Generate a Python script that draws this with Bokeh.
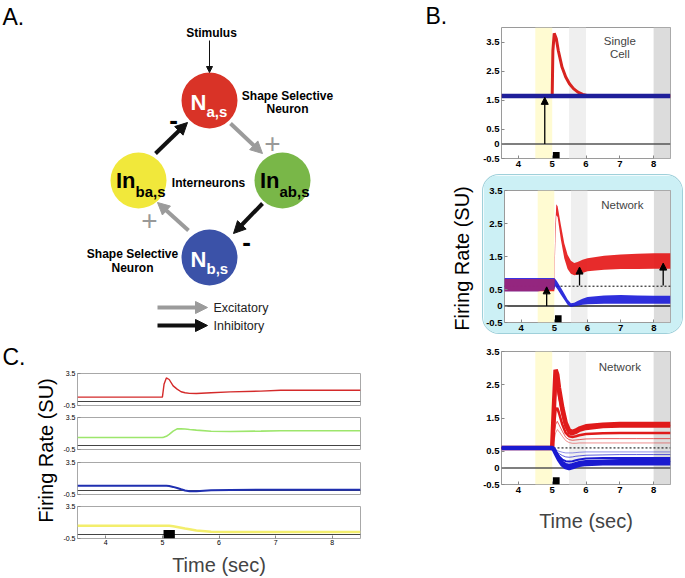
import math
from bokeh.plotting import figure
from bokeh.models import (Range1d, FixedTicker, NumeralTickFormatter, Arrow,
                          NormalHead, Label, ColumnDataSource, Spacer)
from bokeh.layouts import row, column
from bokeh.core.properties import value
from bokeh.embed import file_html
from bokeh.resources import INLINE

FONT = "Liberation Sans"

# ---------------- data ----------------
x_ticks = [4, 5, 6, 7, 8]
b_y_ticks = [-0.5, 0, 0.5, 1.5, 2.5, 3.5]
c_y_ticks = [-0.5, 3.5]

band_left = [4.5, 5.5, 8.0]
band_right = [5.0, 6.0, 8.5]
band_colors = ["#fffbd2", "#efefef", "#dcdcdc"]

stim_left = [5.02]
stim_right = [5.22]
stim_bottom_b = [-0.5]
stim_top_b = [-0.28]
stim_bottom_c = [-0.5]
stim_top_c = [0.55]

baseline_t = [3.5, 8.5]
zero_level = [0.0, 0.0]
baseline_level = [0.6, 0.6]

# B1: single cell
t_single = [3.5, 4.0, 4.5, 5.0, 5.02, 5.06, 5.12, 5.18, 5.29, 5.4, 5.51, 5.63, 5.76, 5.9, 6.06, 6.5, 7.0, 7.5, 8.0, 8.5]
red_single = [1.65, 1.65, 1.65, 1.65, 3.2, 3.8, 3.62, 3.21, 2.64, 2.3, 2.07, 1.9, 1.78, 1.7, 1.66, 1.65, 1.65, 1.65, 1.65, 1.65]
blue_single_t = [3.5, 8.5]
blue_single = [1.65, 1.65]
single_arrow_x = [4.78]
single_arrow_y0 = [0.0]
single_arrow_y1 = [1.6]

# B2: network, many trials (band extents)
t_net = [3.5, 4.0, 4.5, 5.0, 5.03, 5.06, 5.1, 5.2, 5.3, 5.4, 5.5, 5.6, 5.7, 5.85, 6.0, 6.5, 7.0, 7.5, 8.0, 8.5]
red_net_lo = [0.45, 0.45, 0.45, 0.45, 1.9, 2.75, 2.7, 2.0, 1.45, 1.12, 0.98, 0.93, 0.95, 1.0, 1.05, 1.1, 1.12, 1.12, 1.13, 1.13]
red_net_hi = [0.82, 0.82, 0.82, 0.82, 2.4, 3.08, 3.02, 2.45, 1.9, 1.55, 1.37, 1.3, 1.33, 1.4, 1.45, 1.52, 1.56, 1.58, 1.6, 1.6]
blue_net_lo = [0.45, 0.45, 0.45, 0.5, 0.6, 0.55, 0.5, 0.34, 0.19, 0.04, -0.03, -0.01, 0.01, 0.04, 0.05, 0.07, 0.07, 0.07, 0.07, 0.07]
blue_net_hi = [0.85, 0.85, 0.85, 0.85, 0.82, 0.78, 0.72, 0.55, 0.38, 0.2, 0.08, 0.1, 0.15, 0.22, 0.27, 0.32, 0.33, 0.32, 0.31, 0.31]
net_arrow_x = [4.77, 5.76, 8.28]
net_arrow_y0 = [0.0, 0.62, 0.62]
net_arrow_y1 = [0.58, 1.18, 1.3]

# B3: network, several conditions
t_pop = [3.5, 4.0, 4.5, 5.0, 5.05, 5.1, 5.15, 5.2, 5.3, 5.4, 5.5, 5.6, 5.7, 5.8, 6.0, 6.5, 7.0, 7.5, 8.0, 8.5]
red_pop_a = [0.6, 0.6, 0.6, 0.6, 1.8, 2.95, 2.8, 2.4, 1.8, 1.35, 1.12, 1.08, 1.12, 1.18, 1.25, 1.3, 1.32, 1.32, 1.32, 1.32]
red_pop_b = [0.6, 0.6, 0.6, 0.6, 1.7, 2.7, 2.6, 2.2, 1.65, 1.25, 1.05, 1.02, 1.06, 1.12, 1.18, 1.24, 1.25, 1.25, 1.25, 1.25]
red_pop_c = [0.6, 0.6, 0.6, 0.6, 1.2, 1.75, 1.8, 1.65, 1.3, 1.05, 0.95, 0.93, 0.95, 0.98, 1.02, 1.04, 1.05, 1.05, 1.05, 1.05]
red_pop_d = [0.6, 0.6, 0.6, 0.6, 0.95, 1.3, 1.4, 1.3, 1.1, 0.92, 0.85, 0.83, 0.84, 0.85, 0.87, 0.88, 0.88, 0.88, 0.88, 0.88]
red_pop_e = [0.6, 0.6, 0.6, 0.6, 0.8, 1.05, 1.15, 1.1, 0.95, 0.82, 0.76, 0.74, 0.74, 0.75, 0.75, 0.75, 0.75, 0.75, 0.75, 0.75]
blue_pop_a = [0.6, 0.6, 0.6, 0.6, 0.58, 0.55, 0.52, 0.5, 0.47, 0.45, 0.45, 0.45, 0.46, 0.47, 0.48, 0.48, 0.48, 0.48, 0.48, 0.48]
blue_pop_b = [0.6, 0.6, 0.6, 0.6, 0.57, 0.52, 0.47, 0.43, 0.37, 0.33, 0.32, 0.33, 0.35, 0.36, 0.38, 0.39, 0.4, 0.4, 0.4, 0.4]
blue_pop_c = [0.6, 0.6, 0.6, 0.6, 0.56, 0.5, 0.42, 0.35, 0.25, 0.2, 0.19, 0.2, 0.23, 0.25, 0.28, 0.3, 0.3, 0.3, 0.3, 0.3]
blue_pop_d = [0.6, 0.6, 0.6, 0.6, 0.55, 0.47, 0.38, 0.3, 0.17, 0.1, 0.08, 0.1, 0.13, 0.16, 0.19, 0.21, 0.22, 0.22, 0.22, 0.22]
blue_pop_e = [0.6, 0.6, 0.6, 0.6, 0.55, 0.45, 0.35, 0.25, 0.1, 0.02, -0.01, 0.02, 0.06, 0.09, 0.12, 0.14, 0.14, 0.14, 0.14, 0.14]

# C: four populations
t_c = [3.5, 4.0, 4.5, 5.0, 5.03, 5.07, 5.12, 5.19, 5.26, 5.33, 5.4, 5.48, 5.6, 5.86, 6.2, 6.74, 7.09, 7.5, 8.0, 8.5]
c_red = [0.55, 0.55, 0.55, 0.55, 2.2, 2.95, 2.75, 1.95, 1.55, 1.22, 1.1, 1.01, 1.0, 1.09, 1.2, 1.3, 1.4, 1.4, 1.4, 1.4]
c_green = [1.0, 1.0, 1.0, 1.0, 1.05, 1.15, 1.4, 1.8, 2.08, 2.1, 2.06, 2.0, 1.92, 1.78, 1.75, 1.8, 1.84, 1.85, 1.85, 1.85]
c_blue = [0.6, 0.6, 0.6, 0.6, 0.6, 0.58, 0.55, 0.45, 0.32, 0.15, 0.0, -0.1, -0.08, 0.02, 0.07, 0.1, 0.1, 0.1, 0.1, 0.1]
c_yellow = [1.1, 1.1, 1.1, 1.1, 1.1, 1.1, 1.08, 1.02, 0.95, 0.85, 0.75, 0.65, 0.5, 0.35, 0.3, 0.3, 0.3, 0.3, 0.3, 0.3]

# Panel A diagram layout (pixel coordinates)
node_x = [209, 282, 209, 138]
node_y = [100, 180, 257, 180]
node_colors = ["#d93327", "#79b748", "#3b52a8", "#f1e83b"]
node_main = ["N", "In", "N", "In"]
node_sub = ["a,s", "ab,s", "b,s", "ba,s"]
node_text_color = ["white", "black", "white", "black"]

RED = "#d8231f"
GRAY_ARROW = "#9b9b9b"


def arrows(p, x0, y0, x1, y1, color, width, head):
    src = ColumnDataSource(dict(x0=x0, y0=y0, x1=x1, y1=y1))
    p.add_layout(Arrow(end=NormalHead(size=head, fill_color=color, line_color=color, line_width=1),
                       x_start="x0", y_start="y0", x_end="x1", y_end="y1", source=src,
                       line_color=color, line_width=width))


def txt(p, x, y, t, size, color="black", style="normal", align="center", angle=0.0):
    p.text(x=x, y=y, text=t, text_font=value(FONT), text_font_size=value(size),
           text_font_style=style, text_color=color, text_align=align,
           text_baseline="middle", angle=angle)


def blank(width, height, x0, x1, y0, y1):
    p = figure(width=width, height=height, x_range=Range1d(x0, x1), y_range=Range1d(y0, y1),
               output_backend="svg", toolbar_location=None, x_axis_location=None,
               y_axis_location=None, min_border=0, outline_line_color=None)
    p.grid.visible = False
    return p


# ---------------- Panel A ----------------
pa = blank(478, 345, 0, 478, 345, 0)
pa.circle(x=node_x, y=node_y, radius=28, fill_color=node_colors, line_color=None)

arrows(pa, [230, 188], [123, 230], [262, 157], [153, 202], GRAY_ARROW, 4, 12)
arrows(pa, [262, 155], [203, 153], [233, 187], [233, 122], "#111111", 4, 12)
arrows(pa, [209], [40], [209], [72], "#111111", 1, 6)
arrows(pa, [157], [307], [207], [307], GRAY_ARROW, 4, 12)
arrows(pa, [157], [325], [207], [325], "#111111", 4, 12)

main_x = [nx - 3 for nx in node_x]
main_y = [ny + 2 if m == "N" else ny for ny, m in zip(node_y, node_main)]
sub_y = [ny + 11 for ny in node_y]
pa.text(x=main_x, y=main_y, text=node_main, text_font=value(FONT), text_font_size=value("22px"),
        text_font_style="bold", text_color=node_text_color, text_align="right", text_baseline="middle")
pa.text(x=main_x, y=sub_y, text=node_sub, text_font=value(FONT), text_font_size=value("15px"),
        text_font_style="bold", text_color=node_text_color, text_align="left", text_baseline="middle")

txt(pa, [211, 287, 287, 208, 132, 132], [32, 95, 108, 182, 253, 267],
    ["Stimulus", "Shape Selective", "Neuron", "Interneurons", "Shape Selective", "Neuron"],
    "12px", style="bold")
txt(pa, [173, 246], [119, 241], ["-", "-"], "26px", style="bold")
txt(pa, [272, 149], [143, 220], ["+", "+"], "28px", color="#999999")
txt(pa, [213, 213], [307, 325], ["Excitatory", "Inhibitory"], "12.5px", color="#222222", align="left")
txt(pa, [2, 425], [16, 15], ["A.", "B."], "23px", align="left")
txt(pa, [461], [258], ["Firing Rate (SU)"], "20px", angle=math.pi / 2)


# ---------------- Panel B ----------------
def style_axes(p, size, bold, color="#888888"):
    for ax in p.axis:
        ax.axis_line_color = None
        ax.major_tick_in = 3
        ax.major_tick_out = 0
        ax.minor_tick_line_color = None
        ax.major_tick_line_color = color
        ax.major_label_text_font = FONT
        ax.major_label_text_font_size = size
        ax.major_label_text_font_style = "bold" if bold else "normal"
        ax.major_label_text_color = "black"
        ax.major_label_standoff = 2
        ax.axis_label_text_font = FONT
        ax.axis_label_text_font_style = "normal"
        ax.axis_label_text_font_size = "20px"


def make_b(width, height, left, right, top, bottom, ymax, xlabel=None, fill="white"):
    p = figure(width=width, height=height, x_range=Range1d(3.5, 8.5), y_range=Range1d(-0.5, ymax),
               output_backend="svg", toolbar_location=None, min_border_left=left,
               min_border_right=right, min_border_top=top, min_border_bottom=bottom,
               outline_line_color="#9a9a9a", border_fill_color=fill, background_fill_color="white")
    p.grid.visible = False
    p.xaxis.ticker = FixedTicker(ticks=x_ticks)
    p.yaxis.ticker = FixedTicker(ticks=b_y_ticks)
    p.yaxis.formatter = NumeralTickFormatter(format="0.[0]")
    style_axes(p, "9.5px", True)
    if xlabel:
        p.xaxis.axis_label = xlabel
        p.xaxis.axis_label_standoff = 14
    p.quad(left=band_left, right=band_right, bottom=-0.5, top=ymax, fill_color=band_colors,
           line_color=None)
    return p


def stim(p, bottom, top):
    p.quad(left=stim_left, right=stim_right, bottom=bottom, top=top, fill_color="black",
           line_color=None)


def b_arrows(p, xs, y0, y1):
    arrows(p, xs, y0, xs, y1, "black", 1.3, 7)


# B1
b1 = make_b(207, 172, 23, 15, 27, 14, 4.0)
b1.line(baseline_t, zero_level, line_color="#555555", line_width=1.5)
b1.line(t_single, red_single, line_color=RED, line_width=3)
b1.line(blue_single_t, blue_single, line_color="#1f1f9a", line_width=4.5)
b_arrows(b1, single_arrow_x, single_arrow_y0, single_arrow_y1)
stim(b1, stim_bottom_b, stim_top_b)
b1.add_layout(Label(x=7.0, y=3.3, text="Single\nCell", text_align="center", text_baseline="middle",
                    text_font=FONT, text_font_size="11.5px", text_line_height=1.1))

# B2
b2 = make_b(199, 158, 18, 12, 15, 10, 3.5, fill="#ccf0f5")
b2.styles = {"border-radius": "16px", "overflow": "hidden", "box-shadow": "0 0 0 1px #9fd0da"}
b2.line(baseline_t, zero_level, line_color="#222222", line_width=1.5)
b2.line(baseline_t, baseline_level, line_color="black", line_width=1, line_dash="2 2")
b2.varea(x=t_net, y1=blue_net_lo, y2=blue_net_hi, fill_color="#1818d8", fill_alpha=0.9)
b2.varea(x=t_net, y1=red_net_lo, y2=red_net_hi, fill_color="#e41414", fill_alpha=0.9)
b2.varea(x=t_net[:4], y1=blue_net_lo[:4], y2=blue_net_hi[:4], fill_color="#4a3ae8", fill_alpha=0.45)
b_arrows(b2, net_arrow_x, net_arrow_y0, net_arrow_y1)
stim(b2, stim_bottom_b, stim_top_b)
b2.add_layout(Label(x=7.05, y=3.05, text="Network", text_align="center", text_baseline="middle",
                    text_font=FONT, text_font_size="11.5px"))

# B3
b3 = make_b(207, 242, 23, 15, 15, 94, 3.5, xlabel="Time (sec)")
b3.line(baseline_t, zero_level, line_color="#555555", line_width=1.5)
b3.line(baseline_t, baseline_level, line_color="black", line_width=1, line_dash="2 2")
for ys, w, a in [(red_pop_e, 0.8, 0.6), (red_pop_d, 1.0, 0.7), (red_pop_c, 2.5, 1.0),
                 (red_pop_b, 3.0, 1.0), (red_pop_a, 4.5, 1.0)]:
    b3.line(t_pop, ys, line_color="#e01a1a", line_width=w, line_alpha=a)
for ys, w, a in [(blue_pop_a, 0.8, 0.6), (blue_pop_b, 1.0, 0.7), (blue_pop_c, 2.0, 1.0),
                 (blue_pop_d, 3.0, 1.0), (blue_pop_e, 4.5, 1.0)]:
    b3.line(t_pop, ys, line_color="#1a1ad0", line_width=w, line_alpha=a)
stim(b3, stim_bottom_b, stim_top_b)
b3.add_layout(Label(x=7.0, y=3.02, text="Network", text_align="center", text_baseline="middle",
                    text_font=FONT, text_font_size="11.5px"))


# ---------------- Panel C ----------------
def make_c(height, top, bottom, xaxis):
    p = figure(width=320, height=height, x_range=Range1d(3.5, 8.5), y_range=Range1d(-0.5, 3.5),
               output_backend="svg", toolbar_location=None, min_border_left=17,
               min_border_right=20, min_border_top=top, min_border_bottom=bottom,
               x_axis_location="below" if xaxis else None, outline_line_color="#a8a8a8")
    p.grid.visible = False
    p.yaxis.ticker = FixedTicker(ticks=c_y_ticks)
    p.yaxis.formatter = NumeralTickFormatter(format="0.[0]")
    if xaxis:
        p.xaxis.ticker = FixedTicker(ticks=x_ticks)
    style_axes(p, "7px", False)
    if xaxis:
        p.xaxis.axis_label = "Time (sec)"
        p.xaxis.major_label_standoff = 1
        p.xaxis.axis_label_standoff = 6
    p.line(baseline_t, zero_level, line_color="#444444", line_width=1.2)
    return p


c1 = make_c(65, 28, 5, False)
c1.line(t_c, c_red, line_color="#d42a2a", line_width=1.4)
c2 = make_c(45, 7, 6, False)
c2.line(t_c, c_green, line_color="#9de66c", line_width=1.6)
c3 = make_c(45, 7, 6, False)
c3.line(t_c, c_blue, line_color="#1f2fb0", line_width=2)
c4 = make_c(78, 6, 40, True)
c4.line(t_c, c_yellow, line_color="#f3ee6c", line_width=2.5)
c4.quad(left=stim_left, right=stim_right, bottom=stim_bottom_c, top=stim_top_c,
        fill_color="black", line_color=None)

pcl = blank(60, 233, 0, 60, 578, 345)
txt(pcl, [2], [356], ["C."], "23px", align="left")
txt(pcl, [45], [450], ["Firing Rate (SU)"], "20px", angle=math.pi / 2)

left = column(pa, row(pcl, column(c1, c2, c3, c4)))
right = column(b1, Spacer(width=207, height=3), row(Spacer(width=5, height=158), b2),
               Spacer(width=207, height=3), b3)
layout = row(left, right)

open("out.html", "w").write(file_html(layout, INLINE))
